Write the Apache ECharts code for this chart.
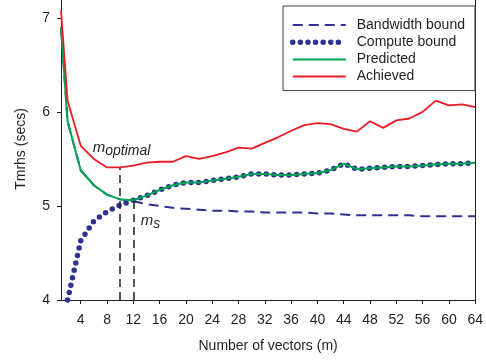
<!DOCTYPE html>
<html>
  <head>
    <title></title>
    <meta charset="UTF-8" />
    <script src="https://cdn.jsdelivr.net/npm/echarts@6/dist/echarts.min.js"></script>
  </head>
  <body style="margin:0">
    <div id="main"></div>
    <script>
      const width = 486;
      const height = 362;
      const main = document.getElementById('main');
      main.style.width = `${width}px`;
      main.style.height = `${height}px`;

      const FONT = 'Liberation Sans';

      // number of vectors m
      const mValues = [1, 2, 4, 6, 8, 10, 12, 14, 16, 18, 20, 22, 24, 26, 28, 30, 32,
        34, 36, 38, 40, 42, 44, 46, 48, 50, 52, 54, 56, 58, 60, 62, 64];
      const bandwidthBound = [6.9, 5.9, 5.38, 5.22, 5.12, 5.07, 5.05, 5.02, 5.0, 4.98, 4.97,
        4.96, 4.95, 4.95, 4.94, 4.94, 4.93, 4.93, 4.93, 4.93, 4.92, 4.92, 4.91, 4.9, 4.9,
        4.9, 4.9, 4.9, 4.89, 4.89, 4.89, 4.89, 4.89];
      const computeBound = [null, 4.0, 4.63, 4.84, 4.94, 5.01, 5.06, 5.11, 5.17, 5.22, 5.25,
        5.25, 5.27, 5.29, 5.31, 5.34, 5.34, 5.33, 5.33, 5.34, 5.35, 5.38, 5.45, 5.39, 5.4,
        5.41, 5.42, 5.42, 5.43, 5.44, 5.45, 5.45, 5.46];
      const predicted = [6.9, 5.9, 5.38, 5.22, 5.12, 5.07, 5.06, 5.11, 5.17, 5.22, 5.25,
        5.25, 5.27, 5.29, 5.31, 5.34, 5.34, 5.33, 5.33, 5.34, 5.35, 5.38, 5.45, 5.39, 5.4,
        5.41, 5.42, 5.42, 5.43, 5.44, 5.45, 5.45, 5.46];
      const achieved = [7.08, 6.12, 5.64, 5.5, 5.41, 5.41, 5.43, 5.46, 5.47, 5.47, 5.53,
        5.5, 5.53, 5.57, 5.62, 5.61, 5.67, 5.73, 5.8, 5.86, 5.88, 5.87, 5.82, 5.79, 5.9,
        5.83, 5.91, 5.93, 6.0, 6.12, 6.07, 6.08, 6.05];

      const xTicks = [4, 8, 12, 16, 20, 24, 28, 32, 36, 40, 44, 48, 52, 56, 60, 64];
      const yTicks = [4, 5, 6, 7];

      // m_optimal and m_s markers: [m, top of the dropline]
      const mOptimal = [10, 5.41];
      const mS = [12, 5.08];

      const pairs = (ys) => mValues.map((m, i) => [m, ys[i]]);

      const navy = '#2e3192';
      const black = '#231f20';
      const dotStyle = { color: navy, width: 5.5, type: [0, 7.6], cap: 'round' };

      const sub = (main, s) => `{m|${main}}{s|${s}}`;
      const richText = {
        m: { fontFamily: FONT, fontStyle: 'italic', fontSize: 15, color: black,
          verticalAlign: 'top', lineHeight: 18 },
        s: { fontFamily: FONT, fontStyle: 'italic', fontSize: 14, color: black,
          verticalAlign: 'bottom', lineHeight: 18, padding: [3, 0, 0, 0] },
      };

      const dropLine = (pt) => [
        { coord: [pt[0], 4] },
        { coord: [pt[0], pt[1]] },
      ];

      const myChart = echarts.init(main, null, { renderer: 'canvas' });
      const option = {
        animation: false,
        backgroundColor: '#fff',
        grid: { left: 61, right: 7, top: 0, bottom: 62 },
        legend: {
          orient: 'vertical',
          left: 283,
          top: 6,
          padding: [12, 10, 7, 7],
          itemWidth: 53,
          itemHeight: 12,
          itemGap: 3.2,
          itemStyle: { opacity: 0 },
          backgroundColor: '#fff',
          borderColor: '#444',
          borderWidth: 1,
          borderRadius: 0,
          textStyle: { fontFamily: FONT, fontSize: 14, color: black, padding: [0, 0, 0, 6] },
          data: [
            'Bandwidth bound',
            { name: 'Compute bound', lineStyle: dotStyle },
            'Predicted',
            'Achieved',
          ],
        },
        xAxis: {
          type: 'value',
          min: 1,
          max: 64,
          name: 'Number of vectors (m)',
          nameLocation: 'middle',
          nameGap: 39,
          nameTextStyle: { fontFamily: FONT, fontSize: 14, color: black },
          axisLine: { lineStyle: { color: black, width: 1 } },
          axisTick: { customValues: xTicks, length: 4, lineStyle: { color: black } },
          axisLabel: { customValues: xTicks, margin: 13, fontFamily: FONT, fontSize: 14, color: black },
          splitLine: { show: false },
        },
        yAxis: [
          {
            type: 'value',
            min: 4,
            max: 7.19,
            interval: 1,
            axisLine: { show: true, lineStyle: { color: black, width: 1 } },
            axisTick: { show: true, customValues: yTicks, length: 4, lineStyle: { color: black } },
            axisLabel: { customValues: yTicks, margin: 11, fontFamily: FONT, fontSize: 14, color: black },
            splitLine: { show: false },
          },
          {
            type: 'value',
            position: 'right',
            min: 4,
            max: 7.19,
            axisLine: { show: true, lineStyle: { color: black, width: 1 } },
            axisTick: { show: false },
            axisLabel: { show: false },
            splitLine: { show: false },
          },
        ],
        graphic: [
          {
            type: 'text',
            x: 21,
            y: 149,
            rotation: Math.PI / 2,
            style: {
              text: 'Tmrhs (secs)',
              font: `14px "${FONT}"`,
              fill: black,
              textAlign: 'center',
              textVerticalAlign: 'middle',
            },
          },
        ],
        series: [
          {
            name: 'Bandwidth bound',
            type: 'line',
            data: pairs(bandwidthBound),
            symbol: 'none',
            lineStyle: { color: navy, width: 2, type: [10, 6] },
            itemStyle: { color: navy },
            z: 2,
          },
          {
            name: 'Compute bound',
            type: 'line',
            data: pairs(computeBound),
            symbol: 'none',
            clip: false,
            lineStyle: dotStyle,
            itemStyle: { color: navy },
            z: 3,
          },
          {
            name: 'Predicted',
            type: 'line',
            data: pairs(predicted),
            symbol: 'none',
            lineStyle: { color: '#00a651', width: 2 },
            itemStyle: { color: '#00a651' },
            z: 4,
            markLine: {
              silent: true,
              symbol: 'none',
              label: { show: false },
              lineStyle: { color: black, width: 1.5, type: [8, 5] },
              data: [dropLine(mOptimal), dropLine(mS)],
            },
          },
          {
            name: 'Achieved',
            type: 'line',
            data: pairs(achieved),
            symbol: 'none',
            lineStyle: { color: '#ed1c24', width: 1.8 },
            itemStyle: { color: '#ed1c24' },
            z: 5,
            markPoint: {
              silent: true,
              symbol: 'circle',
              symbolSize: 1,
              itemStyle: { color: 'rgba(0,0,0,0)' },
              label: { show: true, rich: richText, position: 'inside' },
              data: [
                { coord: [10.2, 5.6], label: { formatter: sub('m', 'optimal') } },
                { coord: [14.6, 4.83], label: { formatter: sub('m', 's') } },
              ],
            },
          },
        ],
      };
      myChart.setOption(option);
    </script>
  </body>
</html>
